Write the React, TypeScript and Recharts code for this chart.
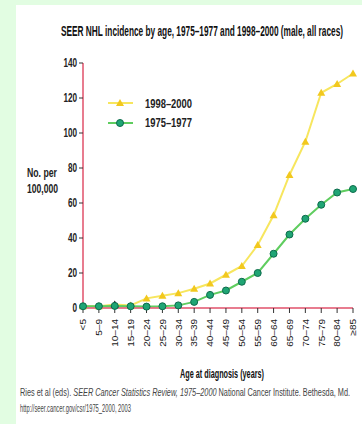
import { LineChart, Line, XAxis, YAxis } from "recharts";

const ageGroups = [
  "<5", "5–9", "10–14", "15–19", "20–24", "25–29", "30–34", "35–39", "40–44",
  "45–49", "50–54", "55–59", "60–64", "65–69", "70–74", "75–79", "80–84", "≥85",
];
const rate1998 = [1, 1, 2, 1.5, 5.5, 7, 8.5, 11, 14, 19, 24, 36, 53, 76, 95, 123, 128, 134];
const rate1975 = [1, 1, 1.2, 1, 0.8, 1, 1.5, 3.5, 7.5, 10, 15, 20, 31, 42, 51, 59, 66, 68];
const yTicks = [0, 20, 40, 60, 80, 100, 120, 140];

const data = ageGroups.map((age, i) => ({ age, recent: rate1998[i], early: rate1975[i] }));

const font = "'Liberation Sans', Arial, sans-serif";

const Triangle = (props: any) => {
  const { cx, cy, index } = props;
  if (cx == null || cy == null) return null;
  const fill = index === 2 ? "#111" : "#f2c81e";
  return (
    <polygon
      key={`t-${index}`}
      points={`${cx},${cy - 4} ${cx - 4},${cy + 3} ${cx + 4},${cy + 3}`}
      fill={fill}
    />
  );
};

const Circle = (props: any) => {
  const { cx, cy, index } = props;
  if (cx == null || cy == null) return null;
  return <circle key={`c-${index}`} cx={cx} cy={cy} r={3.5} fill="#1fa574" stroke="#0d6b4c" strokeWidth={1} />;
};

const XTick = (props: any) => {
  const { x, y, payload } = props;
  return (
    <text
      transform={`translate(${x} ${y + 4}) rotate(-90) scale(1 0.9)`}
      textAnchor="end"
      dominantBaseline="central"
      fontSize={10}
      fontFamily={font}
      fill="#222"
    >
      {payload.value}
    </text>
  );
};

const YTick = (props: any) => {
  const { x, y, payload } = props;
  return (
    <text
      transform={`translate(${x} ${y + 4}) scale(0.68 1)`}
      textAnchor="end"
      fontSize={12}
      fontWeight={700}
      fontFamily={font}
      fill="#222"
    >
      {payload.value}
    </text>
  );
};

export default function App() {
  return (
    <div style={{ position: "fixed", left: 0, top: 0, width: 362, height: 424, background: "#e2fde2" }}>
      <div style={{ position: "absolute", left: 16, top: 5, right: 0, bottom: 0, background: "#fff" }} />
      <div style={{ position: "absolute", left: 0, top: 0 }}>
        <LineChart width={362} height={424} data={data} margin={{ top: 63, right: 9, bottom: 66, left: 50 }}>
          <XAxis
            dataKey="age"
            interval={0}
            height={50}
            tick={<XTick />}
            tickSize={5}
            axisLine={{ stroke: "#e0506a", strokeWidth: 1.5 }}
            tickLine={{ stroke: "#333" }}
          />
          <YAxis
            domain={[0, 140]}
            ticks={yTicks}
            width={33}
            tickSize={4}
            axisLine={{ stroke: "#e0506a", strokeWidth: 1.5 }}
            tickLine={{ stroke: "#333" }}
            tick={<YTick />}
          />
          <Line
            dataKey="recent"
            stroke="#f7e65e"
            strokeWidth={2}
            dot={<Triangle />}
            isAnimationActive={false}
          />
          <Line
            dataKey="early"
            stroke="#5fcd5f"
            strokeWidth={2}
            dot={<Circle />}
            isAnimationActive={false}
          />
        </LineChart>
      </div>
      <svg style={{ position: "absolute", left: 0, top: 0 }} width={362} height={424} fontFamily={font}>
        <text x={61} y={36} fontSize={14} fontWeight={700} fill="#111" textLength={282} lengthAdjust="spacingAndGlyphs">
          SEER NHL incidence by age, 1975–1977 and 1998–2000 (male, all races)
        </text>
        <text x={27} y={177} fontSize={12} fontWeight={700} fill="#222" textLength={30} lengthAdjust="spacingAndGlyphs">
          No. per
        </text>
        <text x={27} y={193} fontSize={12} fontWeight={700} fill="#222" textLength={31} lengthAdjust="spacingAndGlyphs">
          100,000
        </text>

        <line x1={108} y1={103} x2={133} y2={103} stroke="#f7e65e" strokeWidth={2} />
        <polygon points="120,99 116,106 124,106" fill="#f2c81e" />
        <line x1={108} y1={123} x2={133} y2={123} stroke="#5fcd5f" strokeWidth={2} />
        <circle cx={120} cy={123} r={3.5} fill="#1fa574" stroke="#0d6b4c" />
        <text x={145} y={108} fontSize={12} fontWeight={700} fill="#222" textLength={47} lengthAdjust="spacingAndGlyphs">
          1998–2000
        </text>
        <text x={145} y={127} fontSize={12} fontWeight={700} fill="#222" textLength={47} lengthAdjust="spacingAndGlyphs">
          1975–1977
        </text>

        <text x={180} y={378} fontSize={13} fontWeight={700} fill="#111" textLength={84} lengthAdjust="spacingAndGlyphs">
          Age at diagnosis (years)
        </text>
        <text x={20} y={396} fontSize={11} fill="#444" textLength={330} lengthAdjust="spacingAndGlyphs">
          Ries et al (eds). <tspan fontStyle="italic">SEER Cancer Statistics Review, 1975–2000</tspan> National Cancer Institute. Bethesda, Md.
        </text>
        <text x={20} y={412} fontSize={11} fill="#444" textLength={111} lengthAdjust="spacingAndGlyphs">
          http://seer.cancer.gov/csr/1975_2000, 2003
        </text>
      </svg>
    </div>
  );
}
